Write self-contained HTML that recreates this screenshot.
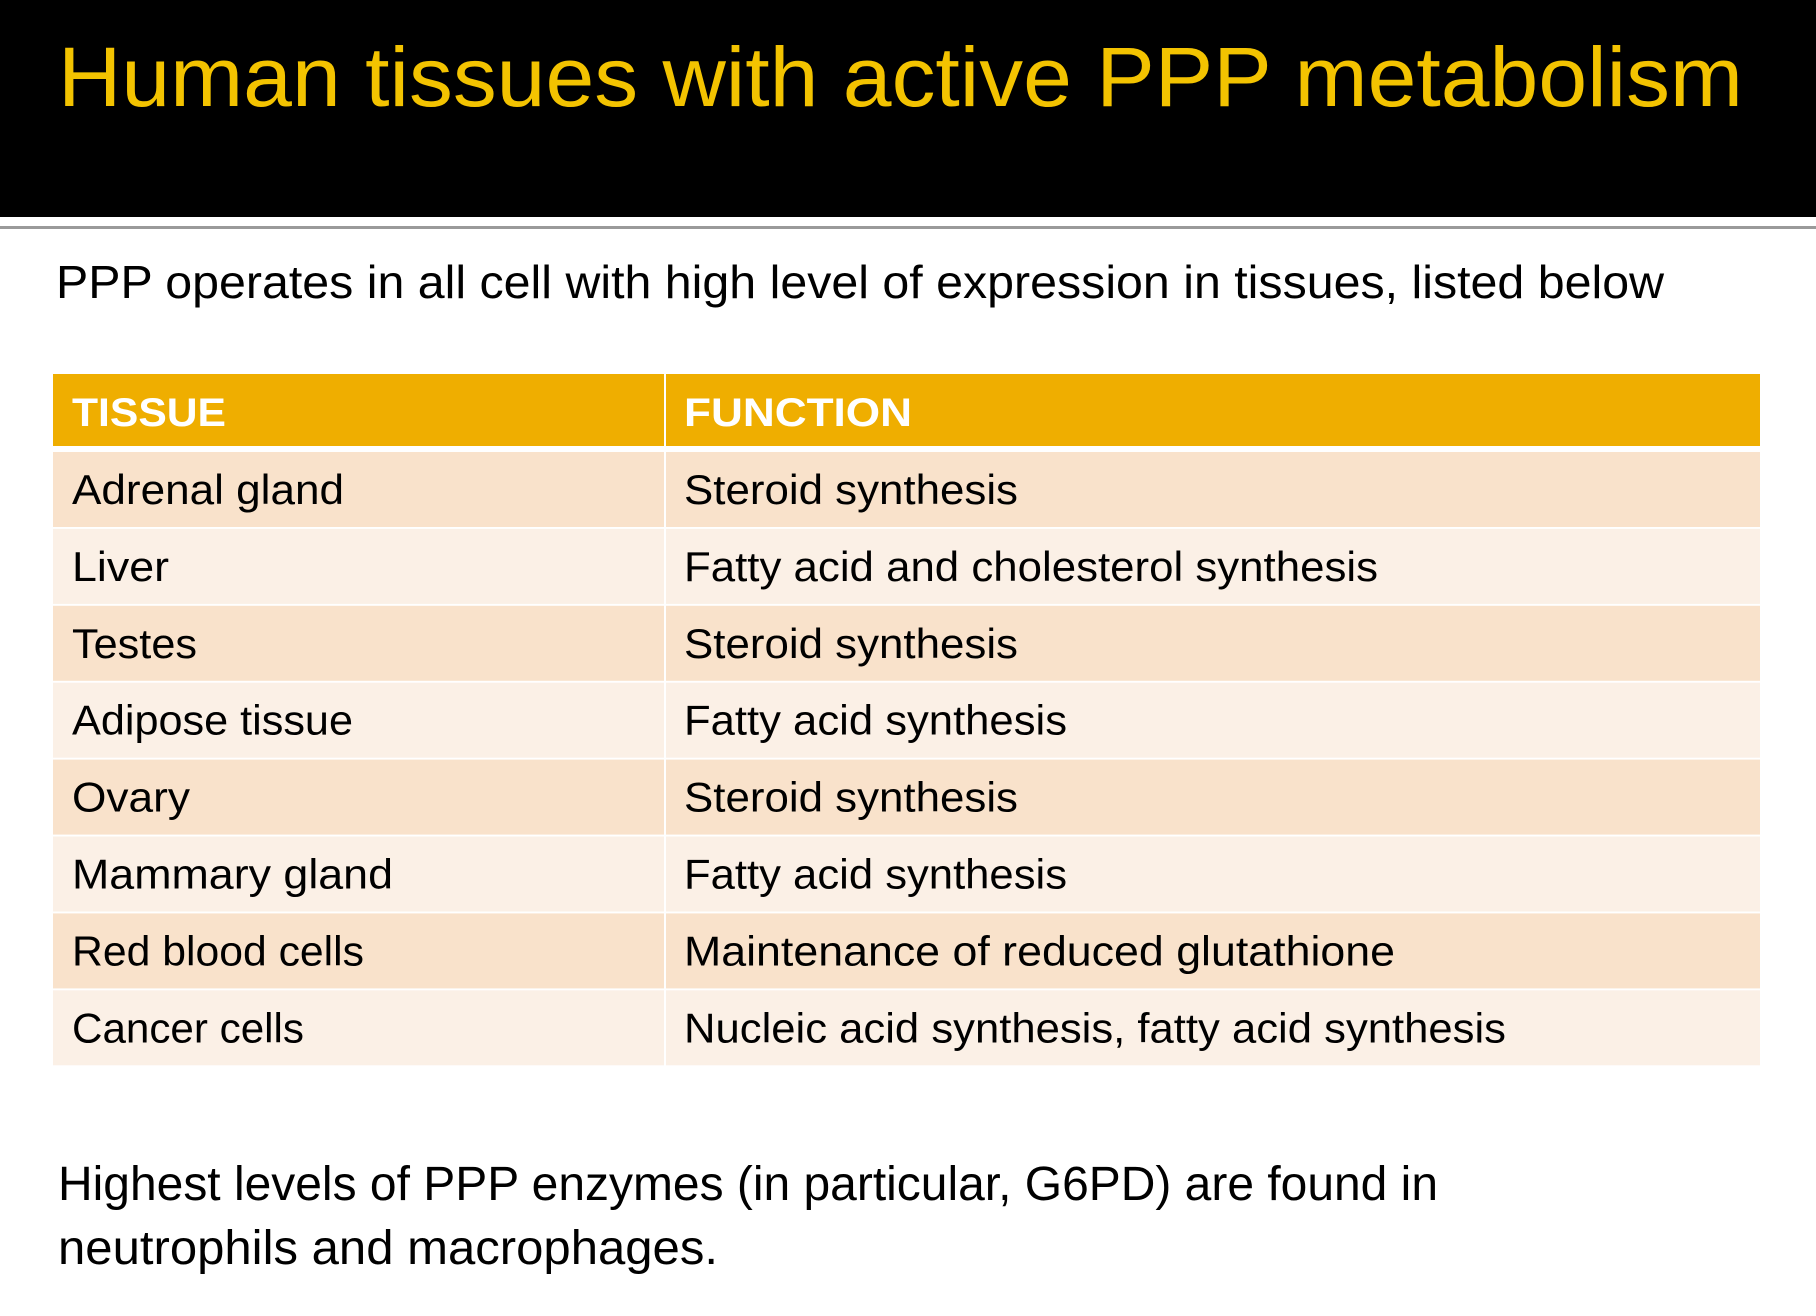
<!DOCTYPE html>
<html><head><meta charset="utf-8"><style>html,body{margin:0;padding:0;background:#fff}svg{display:block}</style></head>
<body>
<svg id="s" width="1816" height="1316" viewBox="0 0 1816 1316" xmlns="http://www.w3.org/2000/svg" font-family="'Liberation Sans', sans-serif">
<rect x="0" y="0" width="1816" height="217" fill="#000"/>
<rect x="0" y="226" width="1816" height="3" fill="#9a9a9a"/>
<text x="58" y="106" font-size="84" fill="#F3C300" textLength="1685" lengthAdjust="spacingAndGlyphs">Human tissues with active PPP metabolism</text>
<text x="56" y="298" font-size="46" fill="#000" textLength="1608" lengthAdjust="spacingAndGlyphs">PPP operates in all cell with high level of expression in tissues, listed below</text>
<g id="tbl">
<rect x="53" y="374" width="611" height="72" fill="#EFAE00"/>
<rect x="666" y="374" width="1094" height="72" fill="#EFAE00"/>
<text x="72" y="426" font-size="40" font-weight="bold" fill="#fff" textLength="154" lengthAdjust="spacingAndGlyphs">TISSUE</text>
<text x="684" y="426" font-size="40" font-weight="bold" fill="#fff" textLength="228" lengthAdjust="spacingAndGlyphs">FUNCTION</text>
</g>
<text x="58" y="1200" font-size="48" fill="#000" textLength="1380" lengthAdjust="spacingAndGlyphs">Highest levels of PPP enzymes (in particular, G6PD) are found in</text>
<text x="58" y="1264" font-size="48" fill="#000" textLength="660" lengthAdjust="spacingAndGlyphs">neutrophils and macrophages.</text>
</svg>
<script>
const tissues=["Adrenal gland","Liver","Testes","Adipose tissue","Ovary","Mammary gland","Red blood cells","Cancer cells"];
const functions=["Steroid synthesis","Fatty acid and cholesterol synthesis","Steroid synthesis","Fatty acid synthesis","Steroid synthesis","Fatty acid synthesis","Maintenance of reduced glutathione","Nucleic acid synthesis, fatty acid synthesis"];
const tW=[272,97,125,281,118,321,292,232];
const fW=[334,694,334,383,334,383,711,822];
const NS="http://www.w3.org/2000/svg";
const g=document.getElementById('tbl');
function mk(tag,attrs){const e=document.createElementNS(NS,tag);for(const k in attrs)e.setAttribute(k,attrs[k]);return e;}
tissues.forEach((t,i)=>{
  const top=452+i*76.9;
  const fill=i%2===0?"#F9E2CB":"#FBF0E6";
  const r1=mk('rect',{x:53,y:top,width:611,height:75,fill:fill});
  
  
  const r2=mk('rect',{x:666,y:top,width:1094,height:75,fill:fill});
  
  
  const t1=mk('text',{x:72,y:top+52,'font-size':42,fill:'#000',textLength:tW[i],lengthAdjust:'spacingAndGlyphs'});
  t1.textContent=t;
  
  
  const t2=mk('text',{x:684,y:top+52,'font-size':42,fill:'#000',textLength:fW[i],lengthAdjust:'spacingAndGlyphs'});
  t2.textContent=functions[i];
  
  
  g.appendChild(r1);g.appendChild(r2);g.appendChild(t1);g.appendChild(t2);
});
</script>
</body></html>
